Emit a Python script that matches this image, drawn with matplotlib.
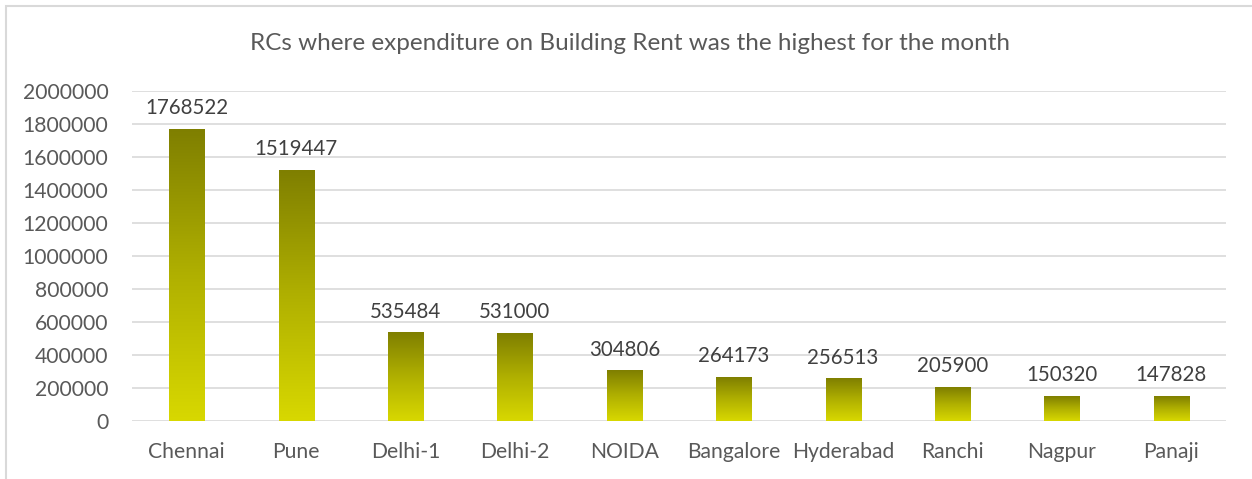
import numpy as np
import matplotlib
matplotlib.use("Agg")
import matplotlib.pyplot as plt
from matplotlib.colors import LinearSegmentedColormap
from matplotlib.patches import Rectangle

centres = ["Chennai", "Pune", "Delhi-1", "Delhi-2", "NOIDA",
           "Bangalore", "Hyderabad", "Ranchi", "Nagpur", "Panaji"]
rent = [1768522, 1519447, 535484, 531000, 304806,
        264173, 256513, 205900, 150320, 147828]
yticks = [0, 200000, 400000, 600000, 800000, 1000000,
          1200000, 1400000, 1600000, 1800000, 2000000]

plt.rcParams["font.family"] = ["Lato", "DejaVu Sans"]

fig = plt.figure(figsize=(12.52, 4.79), dpi=100)
# outer chart frame (left and top edges only visible)
fig.patches.append(Rectangle((6 / 1252, -0.1), 1.2, (479 - 6) / 479 + 0.1,
                             transform=fig.transFigure, fill=False,
                             edgecolor="#d9d9d9", lw=1.5))
ax = fig.add_axes([132 / 1252, (479 - 421) / 479, 1094 / 1252, 330 / 479])

x = np.arange(len(centres))
bars = ax.bar(x, rent, width=0.32, color="none", zorder=3)

grad = LinearSegmentedColormap.from_list("olive", ["#d8d800", "#b0b000", "#7f7f00"])
g = np.linspace(0, 1, 256).reshape(-1, 1)
for b in bars:
    x0, w, h = b.get_x(), b.get_width(), b.get_height()
    ax.imshow(g, cmap=grad, origin="lower", aspect="auto",
              extent=[x0, x0 + w, 0, h], zorder=3)

for xi, v in zip(x, rent):
    ax.annotate(str(v), (xi, v), xytext=(0, 8), textcoords="offset points",
                ha="center", va="bottom", fontsize=14.8, color="#404040")

ax.set_xlim(-0.5, len(centres) - 0.5)
ax.set_ylim(0, 2000000)
ax.set_yticks(yticks)
ax.set_yticklabels([str(t) for t in yticks])
ax.set_xticks(x)
ax.set_xticklabels(centres)
ax.tick_params(axis="both", length=0, labelsize=15.2, labelcolor="#595959")
ax.tick_params(axis="y", pad=17)
ax.tick_params(axis="x", pad=15)
ax.yaxis.grid(True, color="#d9d9d9", lw=1.2, zorder=0)
ax.set_axisbelow(True)
for s in ax.spines.values():
    s.set_visible(False)

fig.text(630 / 1252, 1 - 44 / 479, "RCs where expenditure on Building Rent was the highest for the month",
         ha="center", va="center", fontsize=17.5, color="#595959")

fig.savefig("out.png", dpi=100)
